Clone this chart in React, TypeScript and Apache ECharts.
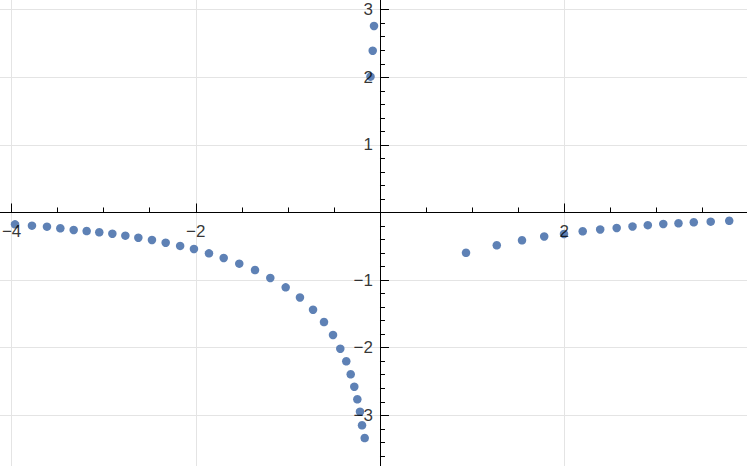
import React, { useEffect, useRef } from "react";
import * as echarts from "echarts";

// Points (x, y)
const leftX = [-3.963, -3.779, -3.616, -3.471, -3.326, -3.185, -3.048, -2.906, -2.765, -2.624, -2.476, -2.327, -2.17, -2.02, -1.857, -1.697, -1.528, -1.357, -1.191, -1.024, -0.869, -0.727, -0.608, -0.51, -0.431, -0.366, -0.318, -0.279, -0.246, -0.217, -0.195, -0.166];
const leftY = [-0.175, -0.195, -0.21, -0.234, -0.259, -0.274, -0.293, -0.314, -0.343, -0.373, -0.407, -0.447, -0.494, -0.54, -0.604, -0.673, -0.757, -0.851, -0.969, -1.107, -1.257, -1.438, -1.62, -1.812, -2.015, -2.201, -2.393, -2.577, -2.763, -2.947, -3.148, -3.336];
const topX = [-0.103, -0.079, -0.065];
const topY = [2.009, 2.393, 2.759];
const rightX = [0.934, 1.268, 1.542, 1.783, 1.998, 2.201, 2.391, 2.57, 2.742, 2.908, 3.076, 3.241, 3.407, 3.591, 3.792];
const rightY = [-0.596, -0.485, -0.411, -0.355, -0.318, -0.278, -0.251, -0.229, -0.207, -0.188, -0.17, -0.16, -0.145, -0.136, -0.123];

// Tick positions / tick labels
const xMajor = [-4, -2, 2];
const xMinor = [-3.5, -3, -2.5, -1.5, -1, -0.5, 0.5, 1, 1.5, 2.5, 3, 3.5];
const yMajor = [-3, -2, -1, 1, 2, 3];
const yMinor = [-3.6, -3.4, -3.2, -2.8, -2.6, -2.4, -2.2, -1.8, -1.6, -1.4, -1.2, -0.8, -0.6, -0.4, -0.2, 0.2, 0.4, 0.6, 0.8, 1.2, 1.4, 1.6, 1.8, 2.2, 2.4, 2.6, 2.8];

const X_MIN = -4.126;
const X_MAX = 3.985;
const Y_MIN = -3.75;
const Y_MAX = 3.143;

const fmt = (v: number) => (v < 0 ? "\u2212" + Math.abs(v) : String(v));

export default function App() {
  const ref = useRef<HTMLDivElement>(null);
  useEffect(() => {
    if (!ref.current) return;
    const chart = echarts.init(ref.current, null, { renderer: "svg" });
    const pts: number[][] = [];
    leftX.forEach((x, i) => pts.push([x, leftY[i]]));
    topX.forEach((x, i) => pts.push([x, topY[i]]));
    rightX.forEach((x, i) => pts.push([x, rightY[i]]));

    const gridLine = { show: true, lineStyle: { color: "#e4e4e4", width: 1 } };
    const labelStyle = { color: "#000", fontSize: 17, fontFamily: "Liberation Sans, Arial, sans-serif" };

    const axisCommon = (min: number, max: number) => ({ type: "value", min, max });

    chart.setOption({
      animation: false,
      grid: { left: 0, right: 0, top: 0, bottom: 0, containLabel: false, outerBoundsMode: "none" },
      xAxis: [
        {
          ...axisCommon(X_MIN, X_MAX), position: "bottom", z: 0,
          axisLine: { show: false, onZero: true, onZeroAxisIndex: 0 },
          axisTick: { show: false, customValues: xMajor },
          axisLabel: { show: false, customValues: xMajor },
          splitLine: gridLine,
        },
        {
          ...axisCommon(X_MIN, X_MAX), position: "bottom", z: 5,
          axisLine: { show: true, onZero: true, onZeroAxisIndex: 1, lineStyle: { color: "#000", width: 1 } },
          axisTick: { show: true, inside: true, length: 9, customValues: xMajor, lineStyle: { color: "#000", width: 1 } },
          axisLabel: { show: false },
          splitLine: { show: false },
        },
        {
          ...axisCommon(X_MIN, X_MAX), position: "bottom", z: 5,
          axisLine: { show: false, onZero: true, onZeroAxisIndex: 2 },
          axisTick: { show: true, inside: true, length: 5, customValues: xMinor, lineStyle: { color: "#000", width: 1 } },
          axisLabel: { show: false },
          splitLine: { show: false },
        },
      ],
      yAxis: [
        {
          ...axisCommon(Y_MIN, Y_MAX), position: "left", z: 0,
          axisLine: { show: false, onZero: true, onZeroAxisIndex: 0 },
          axisTick: { show: false, customValues: yMajor },
          axisLabel: { show: false, customValues: yMajor },
          splitLine: gridLine,
        },
        {
          ...axisCommon(Y_MIN, Y_MAX), position: "left", z: 5,
          axisLine: { show: true, onZero: true, onZeroAxisIndex: 1, lineStyle: { color: "#000", width: 1 } },
          axisTick: { show: true, inside: true, length: 9, customValues: yMajor, lineStyle: { color: "#000", width: 1 } },
          axisLabel: { show: false },
          splitLine: { show: false },
        },
        {
          ...axisCommon(Y_MIN, Y_MAX), position: "left", z: 5,
          axisLine: { show: false, onZero: true, onZeroAxisIndex: 2 },
          axisTick: { show: true, inside: true, length: 5, customValues: yMinor, lineStyle: { color: "#000", width: 1 } },
          axisLabel: { show: false },
          splitLine: { show: false },
        },
      ],
      series: [
        {
          type: "scatter",
          xAxisIndex: 0,
          yAxisIndex: 0,
          z: 2,
          symbol: "circle",
          symbolSize: 8.5,
          itemStyle: { color: "#5E81B5", opacity: 1 },
          data: pts,
        },
        {
          // x tick labels, placed below the x axis line
          type: "scatter",
          xAxisIndex: 0,
          yAxisIndex: 0,
          z: 10,
          symbol: "circle",
          symbolSize: 0.01,
          itemStyle: { color: "rgba(0,0,0,0)" },
          silent: true,
          clip: false,
          label: {
            show: true,
            position: "inside",
            offset: [0, 19.5],
            align: "center",
            verticalAlign: "middle",
            formatter: (p: any) => fmt(p.value[0]),
            ...labelStyle,
          },
          data: xMajor.map((v) => [v, 0]),
        },
        {
          // y tick labels, placed left of the y axis line
          type: "scatter",
          xAxisIndex: 0,
          yAxisIndex: 0,
          z: 10,
          symbol: "circle",
          symbolSize: 0.01,
          itemStyle: { color: "rgba(0,0,0,0)" },
          silent: true,
          clip: false,
          label: {
            show: true,
            position: "inside",
            offset: [-7, 0],
            align: "right",
            verticalAlign: "middle",
            formatter: (p: any) => fmt(p.value[1]),
            ...labelStyle,
          },
          data: yMajor.map((v) => [0, v]),
        },
      ],
    });
    return () => chart.dispose();
  }, []);
  return <div ref={ref} style={{ position: "absolute", left: 0, top: 0, width: 747, height: 466 }} />;
}
